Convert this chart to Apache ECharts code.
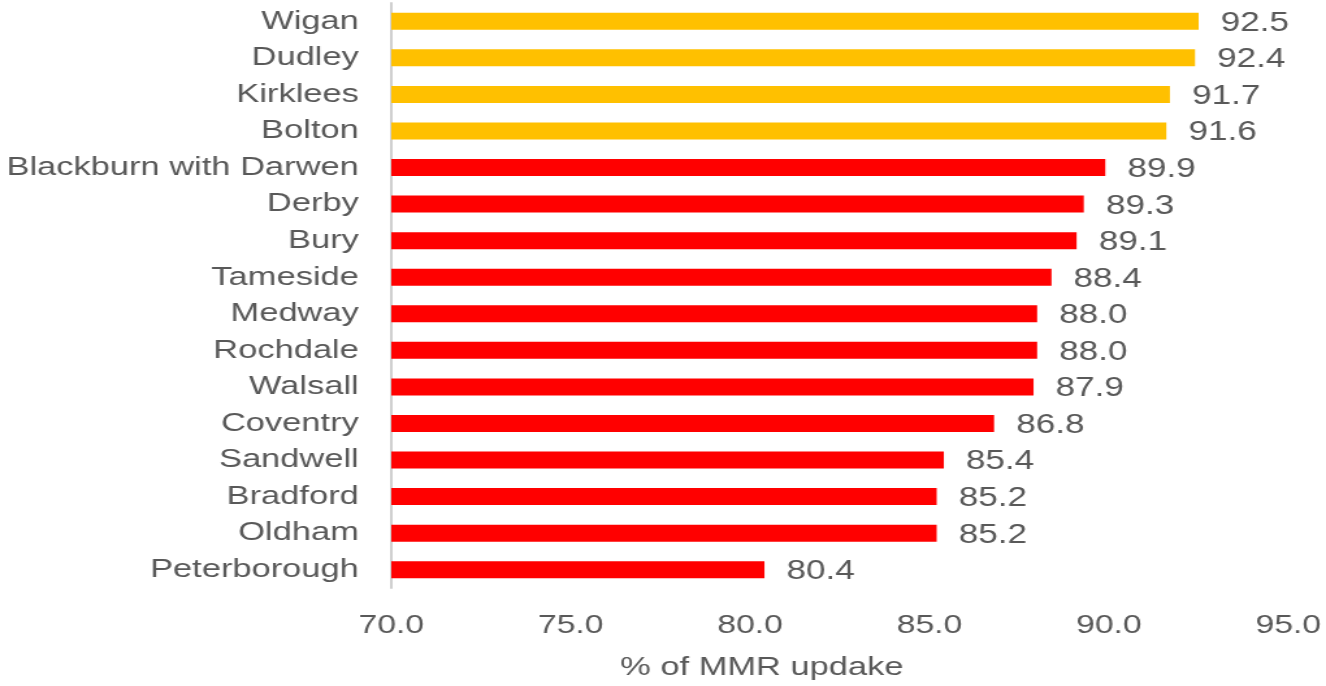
<!DOCTYPE html>
<html>
<head>
<meta charset="utf-8">
<script src="https://cdn.jsdelivr.net/npm/echarts@6/dist/echarts.min.js"></script>
<style>
  html, body { margin: 0; padding: 0; background: #ffffff; overflow: hidden; }
  #wrap { width: 1326px; height: 686px; overflow: hidden; }
  #chart { width: 1020px; height: 686px; transform: scaleX(1.3); transform-origin: 0 0; }
</style>
</head>
<body>
<div id="wrap"><div id="chart"></div></div>
<script>
const categories = ['Wigan', 'Dudley', 'Kirklees', 'Bolton', 'Blackburn with Darwen', 'Derby', 'Bury', 'Tameside', 'Medway', 'Rochdale', 'Walsall', 'Coventry', 'Sandwell', 'Bradford', 'Oldham', 'Peterborough'];
const uptake = [92.5, 92.4, 91.7, 91.6, 89.9, 89.3, 89.1, 88.4, 88.0, 88.0, 87.9, 86.8, 85.4, 85.2, 85.2, 80.4];
const axisName = '% of MMR updake';
const threshold = 90;

const textColor = '#595959';
const font = '"Liberation Sans", Arial, sans-serif';

const chart = echarts.init(document.getElementById('chart'), null, { renderer: 'canvas' });
chart.setOption({
  animation: false,
  backgroundColor: '#ffffff',
  grid: { left: 301, right: 29, top: 3, bottom: 96, containLabel: false },
  xAxis: {
    type: 'value',
    min: 70, max: 95, interval: 5,
    name: axisName,
    nameLocation: 'middle',
    nameGap: 66,
    nameTextStyle: { color: textColor, fontSize: 26.5, fontFamily: font, padding: [0, 120, 0, 0] },
    axisLine: { show: false },
    axisTick: { show: false },
    splitLine: { show: false },
    axisLabel: {
      color: textColor, fontSize: 26, fontFamily: font, margin: 25,
      formatter: v => v.toFixed(1)
    }
  },
  yAxis: {
    type: 'category',
    data: categories,
    inverse: true,
    axisLine: { show: true, lineStyle: { color: '#d0d0d0', width: 2 } },
    axisTick: { show: false },
    splitLine: { show: false },
    axisLabel: { color: textColor, fontSize: 26.5, fontFamily: font, margin: 25, padding: [4, 0, 0, 0] }
  },
  series: [{
    type: 'bar',
    data: uptake,
    barWidth: 17,
    itemStyle: {
      color: p => (p.value >= threshold ? '#FFC000' : '#FF0000')
    },
    label: {
      show: true, position: 'right', distance: 17, offset: [0, 2],
      color: textColor, fontSize: 27, fontFamily: font,
      formatter: p => p.value.toFixed(1)
    }
  }]
});
</script>
</body>
</html>
